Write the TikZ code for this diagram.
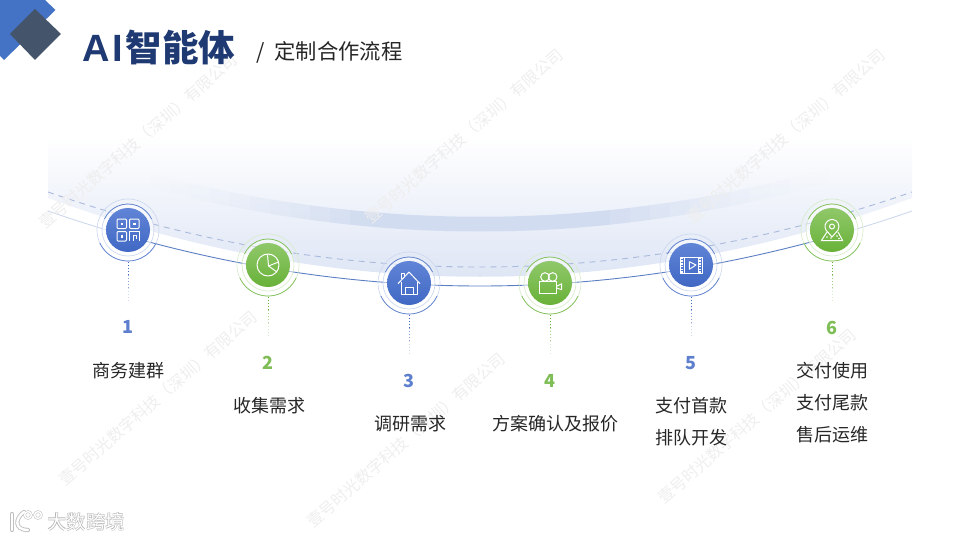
\documentclass[tikz,border=0pt]{standalone}
\usepackage{fontspec}
\setmainfont{Noto Sans CJK SC}
\setsansfont{Noto Sans CJK SC}
\newfontfamily\latinfont{Liberation Sans}
\usetikzlibrary{arrows.meta, positioning, calc}
\definecolor{cTitle}{RGB}{31, 58, 115}
\definecolor{cLogoBlue}{RGB}{68, 114, 196}
\definecolor{cLogoDark}{RGB}{68, 84, 106}
\definecolor{cStepBlue}{RGB}{64, 104, 196}
\definecolor{cStepBlueTop}{RGB}{96, 132, 214}
\definecolor{cStepGreen}{RGB}{104, 178, 56}
\definecolor{cStepGreenTop}{RGB}{144, 200, 106}
\definecolor{cArcBase}{RGB}{216, 225, 243}
\definecolor{cArcBand}{RGB}{209, 220, 240}
\definecolor{cDash}{RGB}{170, 186, 222}
\definecolor{cCurve}{RGB}{92, 127, 196}
\definecolor{cMark}{RGB}{238, 238, 238}
\definecolor{cText}{RGB}{38, 38, 38}
\tikzset{
    % --- steps ---
    stepBall/.style={
        circle, minimum size=44pt, inner sep=0pt,
        top color=#1Top, bottom color=#1
    },
    ringLine/.style={line width=0.7pt, draw=#1},
    stepDrop/.style={line width=1pt, dotted, draw=#1},
    % --- texts ---
    stepNum/.style={font=\fontsize{18}{22}\selectfont\bfseries, text=#1!85},
    stepLabel/.style={font=\fontsize{18}{22}\selectfont, text=cText},
    markText/.style={font=\fontsize{16}{20}\selectfont, text=cMark, rotate=41},
    % --- icons ---
    iconLine/.style={draw=white, line width=1pt, line join=round}
}

\begin{document}
\begin{tikzpicture}[x=1pt, y=-1pt]
	\useasboundingbox (0,0) rectangle (960,540);

	% =========================================
	% 1. background arc
	% =========================================
	\shade[top color=white, bottom color=cArcBase] (48,135) -- (912,135) -- (912,198)
	.. controls (624,303) and (336,303) .. (48,198) -- cycle;
	% band slices, ramp at both ends
	\begin{scope}
		\clip (130,168) .. controls (363,233) and (597,233) .. (830,168)
		-- (830,182) .. controls (597,248) and (363,248) .. (130,182) -- cycle;
		\foreach \i in {0,...,34} {
			\pgfmathsetmacro{\xa}{130+20*\i}
			\pgfmathsetmacro{\ramp}{min(1, min((\xa-130)/230, (830-\xa)/240))}
			\pgfmathsetmacro{\op}{\ramp*\ramp}
			\fill[cArcBand, fill opacity=\op] (\xa,160) rectangle (\xa+20.3,240);
		}
	\end{scope}

	\draw[cDash, line width=0.9pt, dash pattern=on 6pt off 5pt] (48,192) .. controls (336,292) and (624,292) .. (912,192);
	\draw[cCurve, line width=0.9pt] (48,211) .. controls (336,311) and (624,311) .. (912,211);
	\fill[white, opacity=0.7] (48,205) -- (48,214) .. controls (90,229) and (110,236) .. (130,241) -- (130,232) .. controls (100,225) and (80,218) .. cycle;
	\fill[white, opacity=0.7] (912,205) -- (912,214) .. controls (880,226) and (860,232) .. (830,240) -- (830,231) .. controls (860,223) and (880,217) .. cycle;

	% --- watermark ---
	\node[markText] (mark1) at (138,141) {壹号时光数字科技（深圳）有限公司};
	\node[markText] (mark2) at (464,136) {壹号时光数字科技（深圳）有限公司};
	\node[markText] (mark3) at (786,136) {壹号时光数字科技（深圳）有限公司};
	\node[markText] (mark4) at (158,398) {壹号时光数字科技（深圳）有限公司};
	\node[markText] (mark5) at (406,440) {壹号时光数字科技（深圳）有限公司};
	\node[markText] (mark6) at (757,416) {壹号时光数字科技（深圳）有限公司};

	% =========================================
	% 2. header
	% =========================================
	\fill[cLogoBlue] (0,0) -- (45,0) -- (55.5,10) -- (4,60) -- (0,56) -- cycle;
	\fill[cLogoDark] (35,9) -- (61,34) -- (35,60) -- (10,34) -- cycle;
	\node[anchor=west, inner sep=0pt, text=cTitle, font=\fontsize{36.5}{40}\selectfont\bfseries] (title) at (82,47) {{\fontsize{38}{40}\selectfont\latinfont A\hspace{3pt}I}\hspace{2.5pt}智能体};
	\node[anchor=west, inner sep=0pt, text=cText, font=\fontsize{21.3}{25}\selectfont] (subtitle) at (256,52) {/\hspace{10pt}定制合作流程};

	% =========================================
	% 3. steps
	% =========================================
	\node[stepBall=cStepBlue] (n1) at (128,230) {};
	\node[stepBall=cStepGreen] (n2) at (268,265) {};
	\node[stepBall=cStepBlue] (n3) at (409,283) {};
	\node[stepBall=cStepGreen] (n4) at (550,283) {};
	\node[stepBall=cStepBlue] (n5) at (691,265) {};
	\node[stepBall=cStepGreen] (n6) at (832,230) {};

	\foreach \n/\c in {n1/cStepBlue, n2/cStepGreen, n3/cStepBlue, n4/cStepGreen, n5/cStepBlue, n6/cStepGreen} {
		\draw[white, opacity=0.55, line width=3pt] (\n.center) circle (24pt);
		\draw[ringLine=\c!25] (\n.center) circle (26pt);
		\draw[ringLine=\c!25] (\n.center) circle (31pt);
		\draw[ringLine=\c!85] ([shift={(25:26pt)}]\n.center) arc[start angle=25, end angle=155, radius=26pt];
		\draw[ringLine=\c!85] ([shift={(205:31pt)}]\n.center) arc[start angle=205, end angle=335, radius=31pt];
		% dotted drop, thinning out
		\coordinate (\n a) at ($(\n.center)+(0,-32pt)$);
		\coordinate (\n b) at ($(\n.center)+(0,-45pt)$);
		\coordinate (\n c) at ($(\n.center)+(0,-58pt)$);
		\coordinate (\n d) at ($(\n.center)+(0,-72pt)$);
		\draw[stepDrop=\c] (\n a) -- (\n b);
		\draw[stepDrop=\c!60] (\n b) -- (\n c);
		\draw[stepDrop=\c!25] (\n c) -- (\n d);
	}

	% --- icons ---
	\begin{scope}[shift={(n1)}, iconLine]
		\draw[rounded corners=1pt] (-11,-11) rectangle (-1.5,-1.5);
		\draw[rounded corners=1pt] (1.5,-11) rectangle (11,-1.5);
		\draw[rounded corners=1pt] (-11,1.5) rectangle (-1.5,11);
		\fill[white] (-7.5,-7.5) rectangle (-5,-5);
		\fill[white] (5,-7.5) rectangle (7.5,-5);
		\fill[white] (-7.5,5) rectangle (-5,7.5);
		\draw (1.5,11) -- (1.5,1.5) -- (11,1.5) -- (11,11);
		\draw (5,11) -- (5,5) -- (8,5) -- (8,9);
	\end{scope}
	\begin{scope}[shift={(n2)}, iconLine]
		\draw (0,0) circle (11pt);
		\draw (-0.5,-10.5) -- (0.5,1) -- (10.5,-3);
		\draw (0.5,1) -- (9,7);
	\end{scope}
	\begin{scope}[shift={(n3)}, iconLine]
		\draw (-11,0.7) -- (0,-11) -- (11,0.7);
		\draw (-7.7,-1.5) -- (-7.7,11) -- (8,11) -- (8,-1.5);
		\draw (-3.7,11) -- (-3.7,4) -- (4,4) -- (4,11);
		\draw (-7.7,-4) -- (-7.7,-10) -- (-4.5,-10) -- (-4.5,-7);
	\end{scope}
	\begin{scope}[shift={(n4)}, iconLine]
		\draw (-10.7,-1.7) rectangle (6.7,10);
		\draw (-5,-6) circle (4.3pt);
		\draw (2.7,-6) circle (4.3pt);
		\draw (6.7,3.3) -- (11.7,0.7) -- (11.7,6.7) -- (6.7,5);
	\end{scope}
	\begin{scope}[shift={(n5)}, iconLine]
		\draw (-11,-7.7) rectangle (11,8.3);
		\draw (-7,-7.7) -- (-7,8.3);
		\draw (7,-7.7) -- (7,8.3);
		\draw[line width=2.6pt, dash pattern=on 1.6pt off 1.2pt] (-9,-7.7) -- (-9,8.3);
		\draw[line width=2.6pt, dash pattern=on 1.6pt off 1.2pt] (9,-7.7) -- (9,8.3);
		\draw (-1.7,-3.3) -- (5,0) -- (-1.7,4.3) -- cycle;
	\end{scope}
	\begin{scope}[shift={(n6)}, iconLine]
		\draw (0,7) -- (-6.06,0) arc[start angle=210, end angle=-30, radius=7pt] -- cycle;
		\draw (0,-3.5) circle (2.5pt);
		\draw (-5,2) -- (-10.7,10.7) -- (10.7,10.7) -- (6,2);
		\fill[white] (-5,7) circle (0.8pt) (5,6) circle (0.8pt) (-1,8) circle (0.8pt) (7,8.5) circle (0.8pt);
	\end{scope}

	% =========================================
	% 4. texts
	% =========================================
	\node[stepNum=cStepBlue] (num1) at (128,327) {1};
	\node[stepNum=cStepGreen] (num2) at (268,363) {2};
	\node[stepNum=cStepBlue] (num3) at (409,381) {3};
	\node[stepNum=cStepGreen] (num4) at (550,381) {4};
	\node[stepNum=cStepBlue] (num5) at (691,363) {5};
	\node[stepNum=cStepGreen] (num6) at (832,328) {6};

	\node[stepLabel] (text1) at (128,370.5) {商务建群};
	\node[stepLabel] (text2) at (269,405.5) {收集需求};
	\node[stepLabel] (text3) at (410,423.5) {调研需求};
	\node[stepLabel] (text4) at (555,423.5) {方案确认及报价};
	\node[stepLabel] (text5a) at (691,405.5) {支付首款};
	\node[stepLabel] (text5b) at (691,438) {排队开发};
	\node[stepLabel] (text6a) at (832,370.5) {交付使用};
	\node[stepLabel] (text6b) at (832,402.5) {支付尾款};
	\node[stepLabel] (text6c) at (832,435) {售后运维};

	% =========================================
	% 5. brand
	% =========================================
	\foreach \w/\s in {4.2pt/black!25, 2.4pt/white} {
		\draw[draw=\s, line width=\w, line cap=round] (12,514) -- (12,530);
		\draw[draw=\s, line width=\w, line cap=round] (24,512) .. controls (15,518) and (14,530) .. (28,530);
		\draw[draw=\s, line width=\w*0.6] (28,515) circle (3.4pt);
		\draw[draw=\s, line width=\w*0.6] (38,515) circle (3.4pt);
	}
	\node[anchor=west, inner sep=0pt, text=black!30, font=\fontsize{19.5}{22}\selectfont\bfseries] (brandShade) at (47,522.5) {大数跨境};
	\node[anchor=west, inner sep=0pt, text=white, font=\fontsize{19.5}{22}\selectfont] (brand) at (47,522.5) {大数跨境};
\end{tikzpicture}
\end{document}
